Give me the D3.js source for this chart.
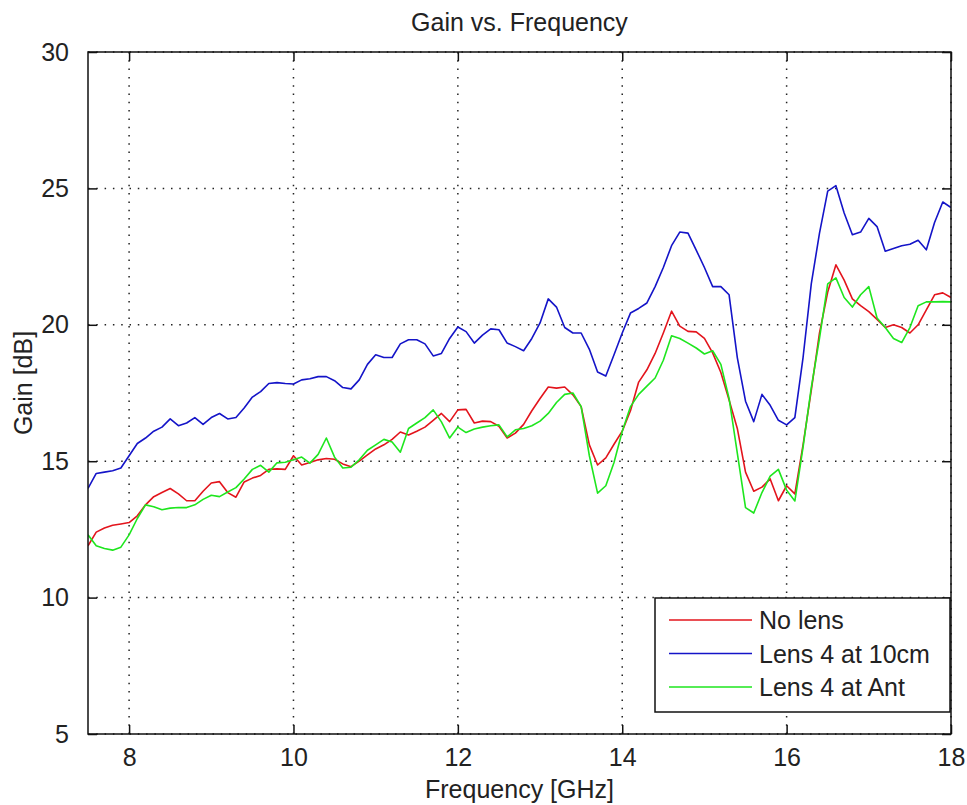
<!DOCTYPE html>
<html>
<head>
<meta charset="utf-8">
<script src="https://cdn.jsdelivr.net/npm/d3@7"></script>
<style>
  body { margin: 0; background: #fff; }
  svg text { font-family: "Liberation Sans", Arial, sans-serif; fill: #222; }
</style>
</head>
<body>
<svg id="chart" width="967" height="805"></svg>
<script>
// frequency points [GHz]
var freq = [7.5, 7.6, 7.7, 7.8, 7.9, 8.0, 8.1, 8.2, 8.3, 8.4, 8.5, 8.6, 8.7, 8.8, 8.9,
  9.0, 9.1, 9.2, 9.3, 9.4, 9.5, 9.6, 9.7, 9.8, 9.9, 10.0, 10.1, 10.2, 10.3, 10.4, 10.5,
  10.6, 10.7, 10.8, 10.9, 11.0, 11.1, 11.2, 11.3, 11.4, 11.5, 11.6, 11.7, 11.8, 11.9,
  12.0, 12.1, 12.2, 12.3, 12.4, 12.5, 12.6, 12.7, 12.8, 12.9, 13.0, 13.1, 13.2, 13.3,
  13.4, 13.5, 13.6, 13.7, 13.8, 13.9, 14.0, 14.1, 14.2, 14.3, 14.4, 14.5, 14.6, 14.7,
  14.8, 14.9, 15.0, 15.1, 15.2, 15.3, 15.4, 15.5, 15.6, 15.7, 15.8, 15.9, 16.0, 16.1,
  16.2, 16.3, 16.4, 16.5, 16.6, 16.7, 16.8, 16.9, 17.0, 17.1, 17.2, 17.3, 17.4, 17.5,
  17.6, 17.7, 17.8, 17.9, 18.0];

var gainNoLens = [11.9, 12.4, 12.55, 12.65, 12.7, 12.75, 13.0, 13.4, 13.7, 13.85, 14.0, 13.8, 13.55, 13.55, 13.9,
  14.2, 14.25, 13.85, 13.68, 14.24, 14.38, 14.48, 14.7, 14.72, 14.7, 15.2, 14.86, 14.95, 15.05, 15.1, 15.07,
  14.9, 14.8, 15.0, 15.23, 15.45, 15.6, 15.8, 16.07, 15.96, 16.1, 16.25, 16.5, 16.75, 16.45,
  16.88, 16.9, 16.4, 16.47, 16.45, 16.28, 15.85, 16.03, 16.35, 16.85, 17.3, 17.72, 17.68, 17.72,
  17.43, 17.0, 15.6, 14.86, 15.12, 15.62, 16.1, 16.85, 17.9, 18.35, 18.95, 19.7, 20.5, 19.95,
  19.76, 19.74, 19.5, 18.97, 18.25, 17.24, 16.2, 14.6, 13.9, 14.05, 14.35, 13.55, 14.1, 13.8,
  15.6, 17.6, 19.7, 21.2, 22.2, 21.64, 20.95, 20.7, 20.48, 20.2, 19.9, 20.0, 19.9, 19.7,
  20.0, 20.55, 21.1, 21.17, 21.0];

var gainLens10cm = [14.0, 14.55, 14.6, 14.65, 14.75, 15.2, 15.65, 15.85, 16.1, 16.25, 16.55, 16.3, 16.4, 16.6, 16.35,
  16.6, 16.75, 16.55, 16.6, 16.95, 17.35, 17.55, 17.85, 17.88, 17.85, 17.83, 17.98, 18.02, 18.1, 18.1, 17.95,
  17.7, 17.65, 17.98, 18.55, 18.9, 18.8, 18.8, 19.3, 19.45, 19.45, 19.3, 18.86, 18.95, 19.5,
  19.92, 19.75, 19.33, 19.62, 19.85, 19.82, 19.33, 19.2, 19.05, 19.5, 20.07, 20.95, 20.65, 19.9,
  19.7, 19.7, 19.1, 18.27, 18.12, 18.9, 19.7, 20.43, 20.6, 20.8, 21.4, 22.1, 22.9, 23.4,
  23.36, 22.74, 22.1, 21.4, 21.4, 21.1, 18.8, 17.2, 16.45, 17.45, 17.05, 16.5, 16.33, 16.6,
  18.8, 21.5, 23.36, 24.9, 25.1, 24.1, 23.3, 23.4, 23.9, 23.6, 22.7, 22.8, 22.9, 22.95,
  23.1, 22.75, 23.75, 24.5, 24.3];

var gainLensAnt = [12.3, 11.9, 11.8, 11.74, 11.85, 12.3, 12.9, 13.4, 13.33, 13.22, 13.28, 13.3, 13.3, 13.4, 13.6,
  13.75, 13.7, 13.87, 14.03, 14.35, 14.7, 14.85, 14.6, 14.94, 14.96, 15.05, 15.15, 14.93, 15.25, 15.85, 15.15,
  14.75, 14.78, 15.05, 15.4, 15.6, 15.8, 15.7, 15.33, 16.2, 16.4, 16.6, 16.88, 16.44, 15.85,
  16.25, 16.05, 16.18, 16.25, 16.3, 16.33, 15.89, 16.15, 16.2, 16.3, 16.47, 16.75, 17.15, 17.45,
  17.5, 17.0, 15.2, 13.83, 14.1, 14.95, 16.1, 17.0, 17.45, 17.75, 18.05, 18.7, 19.6, 19.5,
  19.33, 19.15, 18.93, 19.05, 18.55, 17.3, 15.3, 13.3, 13.1, 13.85, 14.45, 14.7, 13.94, 13.54,
  15.52, 17.7, 19.5, 21.5, 21.72, 21.0, 20.65, 21.1, 21.4, 20.25, 19.9, 19.5, 19.35, 19.9,
  20.7, 20.84, 20.84, 20.85, 20.84];

var seriesNames = ["No lens", "Lens 4 at 10cm", "Lens 4 at Ant"];
var seriesColors = ["#e3141c", "#1414c8", "#1ee61e"];
var xTicks = [8, 10, 12, 14, 16, 18];
var yTicks = [5, 10, 15, 20, 25, 30];

var series = [gainNoLens, gainLens10cm, gainLensAnt];

var plotLeft = 88, plotRight = 951, plotTop = 52, plotBottom = 734;

var svg = d3.select("#chart");

var x = d3.scaleLinear().domain([7.5, 18]).range([plotLeft, plotRight]);
var y = d3.scaleLinear().domain([5, 30]).range([plotBottom, plotTop]);

// grid
var grid = svg.append("g");
grid.selectAll(".vgrid")
  .data(xTicks)
  .enter()
  .append("line")
  .attr("x1", d => x(d)).attr("x2", d => x(d))
  .attr("y1", plotTop).attr("y2", plotBottom)
  .attr("stroke", "#222")
  .attr("stroke-width", 1.5)
  .attr("stroke-dasharray", "1.5,6.8");
grid.selectAll(".hgrid")
  .data(yTicks)
  .enter()
  .append("line")
  .attr("x1", plotLeft).attr("x2", plotRight)
  .attr("y1", d => y(d)).attr("y2", d => y(d))
  .attr("stroke", "#222")
  .attr("stroke-width", 1.5)
  .attr("stroke-dasharray", "1.5,6.8");

// curves
var line = d3.line()
  .x(function (d, i) { return x(freq[i]) })
  .y(function (d) { return y(d) });

svg.append("defs").append("clipPath")
  .attr("id", "clip")
  .append("rect")
  .attr("x", plotLeft).attr("y", plotTop)
  .attr("width", plotRight - plotLeft).attr("height", plotBottom - plotTop);

svg.selectAll(".curve")
  .data(series)
  .enter()
  .append("path")
  .attr("clip-path", "url(#clip)")
  .attr("fill", "none")
  .attr("stroke", (d, i) => seriesColors[i])
  .attr("stroke-width", 1.6)
  .attr("stroke-linejoin", "round")
  .attr("d", line);

// axes: bottom/left with labels, top/right only ticks
var tickLen = 9;
var xAxisB = d3.axisBottom(x).tickValues(xTicks).tickSizeInner(-tickLen).tickSizeOuter(0).tickPadding(14);
var yAxisL = d3.axisLeft(y).tickValues(yTicks).tickSizeInner(-tickLen).tickSizeOuter(0).tickPadding(19);
var xAxisT = d3.axisTop(x).tickValues(xTicks).tickSizeInner(-tickLen).tickSizeOuter(0).tickFormat("");
var yAxisR = d3.axisRight(y).tickValues(yTicks).tickSizeInner(-tickLen).tickSizeOuter(0).tickFormat("");

var gx = svg.append("g").attr("transform", "translate(0," + plotBottom + ")").call(xAxisB);
var gy = svg.append("g").attr("transform", "translate(" + plotLeft + ",0)").call(yAxisL);
var gxt = svg.append("g").attr("transform", "translate(0," + plotTop + ")").call(xAxisT);
var gyr = svg.append("g").attr("transform", "translate(" + plotRight + ",0)").call(yAxisR);

[gx, gy, gxt, gyr].forEach(function (g) {
  g.select(".domain").remove();
  g.selectAll(".tick line").attr("stroke", "#111").attr("stroke-width", 1.5);
  g.selectAll(".tick text").style("font-size", "25px").attr("fill", "#222");
});

// axes box
svg.append("rect")
  .attr("x", plotLeft).attr("y", plotTop)
  .attr("width", plotRight - plotLeft).attr("height", plotBottom - plotTop)
  .attr("fill", "none")
  .attr("stroke", "#111")
  .attr("stroke-width", 1.5);

// title + axis labels
svg.append("text")
  .attr("x", (plotLeft + plotRight) / 2)
  .attr("y", 31)
  .attr("text-anchor", "middle")
  .style("font-size", "25px")
  .text("Gain vs. Frequency");

svg.append("text")
  .attr("x", (plotLeft + plotRight) / 2)
  .attr("y", 798)
  .attr("text-anchor", "middle")
  .style("font-size", "25px")
  .text("Frequency [GHz]");

svg.append("text")
  .attr("transform", "translate(32," + ((plotTop + plotBottom) / 2 - 10) + ") rotate(-90)")
  .attr("text-anchor", "middle")
  .style("font-size", "25px")
  .text("Gain [dB]");

// legend
var lg = svg.append("g");
lg.append("rect")
  .attr("x", 655).attr("y", 598)
  .attr("width", 295).attr("height", 114)
  .attr("fill", "#fff")
  .attr("stroke", "#111")
  .attr("stroke-width", 1.5);

var rows = lg.selectAll(".row")
  .data(seriesNames)
  .enter()
  .append("g")
  .attr("transform", (d, i) => "translate(0," + (620 + i * 33.5) + ")");

rows.append("line")
  .attr("x1", 669).attr("x2", 752)
  .attr("y1", 0).attr("y2", 0)
  .attr("stroke", (d, i) => seriesColors[i])
  .attr("stroke-width", 1.6);

rows.append("text")
  .attr("x", 759)
  .attr("y", 0)
  .attr("dy", "0.36em")
  .style("font-size", "25px")
  .text(d => d);
</script>
</body>
</html>
